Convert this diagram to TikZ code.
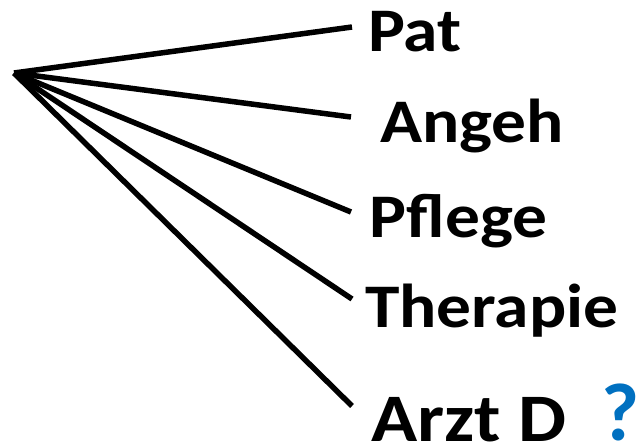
\documentclass[tikz,border=0pt]{standalone}
\usepackage{fontspec}
\setmainfont{Carlito}
\definecolor{qblue}{HTML}{0070C0}
\newcommand{\wide}[1]{\scalebox{1.12}[1]{#1}}
\begin{document}
\begin{tikzpicture}[x=1pt,y=-1pt,
  lbl/.style={anchor=base west,inner sep=0pt,font=\fontsize{62}{62}\selectfont\bfseries},
  big/.style={anchor=base west,inner sep=0pt,font=\fontsize{68}{68}\selectfont\bfseries},
  qmark/.style={anchor=base west,inner sep=0pt,font=\fontsize{82}{82}\selectfont\bfseries,text=qblue},
  spoke/.style={line width=5.5pt}]
\useasboundingbox (0,0) rectangle (638,447);
\coordinate (hub) at (14,73);
\coordinate (e1) at (352,27);
\coordinate (e2) at (351,117);
\coordinate (e3) at (351,212);
\coordinate (e4) at (352,299);
\coordinate (e5) at (352,406);
\node[lbl] (pat) at (368,52) {\wide{Pat}};
\node[lbl] (angeh) at (380,142) {\wide{Angeh}};
\node[lbl] (pflege) at (369,237) {\wide{Pflege}};
\node[lbl] (therapie) at (365,327) {\wide{Therapie}};
\node[big] (arzt) at (371,441) {\wide{Arzt D}};
\node[qmark] (q) at (601,440) {?};
\foreach \e in {e1,e2,e3,e4,e5} \draw[spoke] (hub) -- (\e);
\end{tikzpicture}
\end{document}
